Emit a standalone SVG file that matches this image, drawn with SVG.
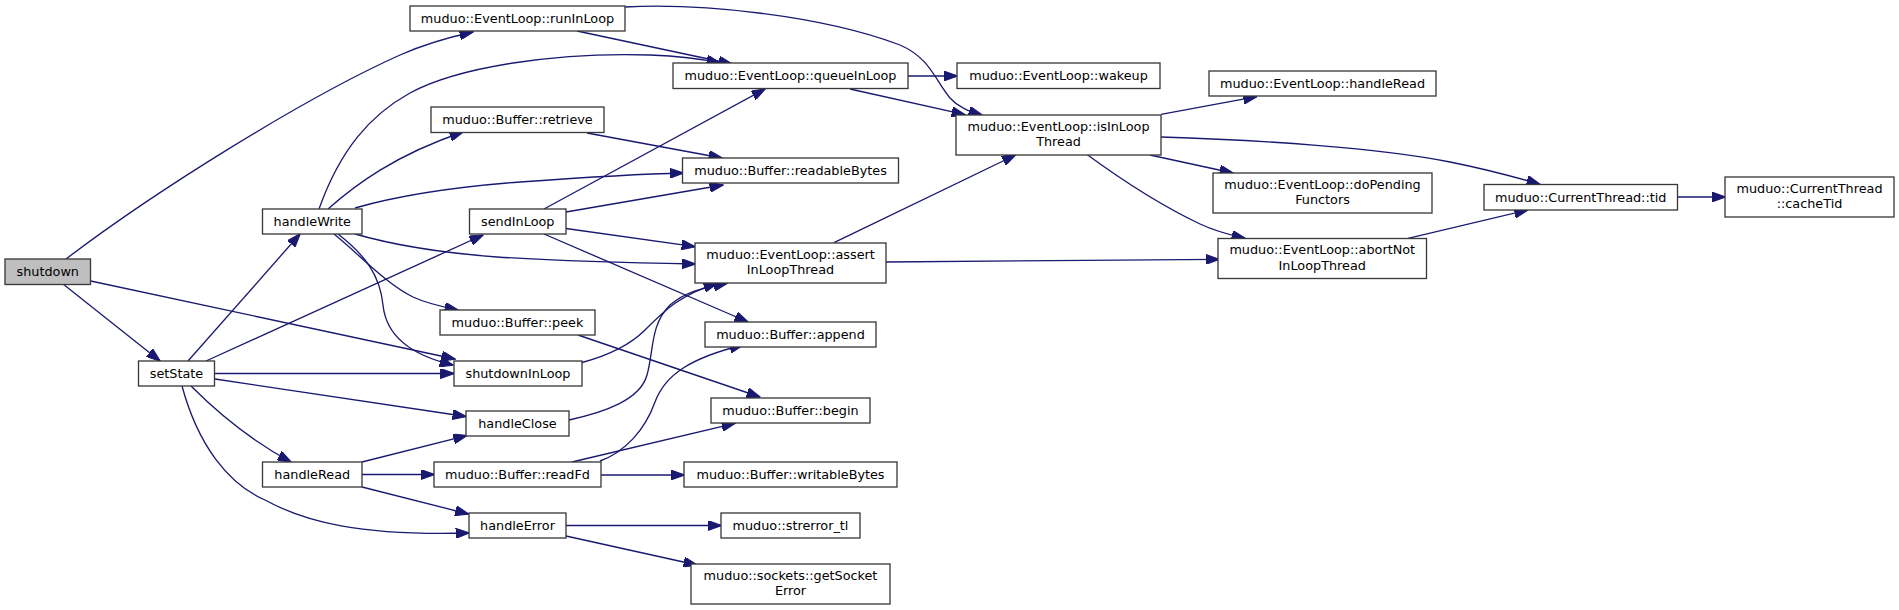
<svg xmlns="http://www.w3.org/2000/svg" width="1899" height="610" viewBox="0 0 1899 610">
<style>
.n rect{fill:#ffffff;stroke:#3a3a3a;stroke-width:1.33}
.n.root rect{fill:#bfbfbf}
.n text{font-family:"DejaVu Sans","Liberation Sans",sans-serif;font-size:12.8px;fill:#000000;text-anchor:middle}
.e path{fill:none;stroke:#191970;stroke-width:1.33;marker-end:url(#arr)}
</style>
<defs>
<marker id="arr" markerUnits="userSpaceOnUse" markerWidth="14" markerHeight="10" viewBox="0 0 13 9.4" refX="12.5" refY="4.7" orient="auto">
<path d="M0,0 L13,4.7 L0,9.4 z" fill="#191970" stroke="#191970" stroke-width="1"/>
</marker>
</defs>
<rect x="0" y="0" width="1899" height="610" fill="#ffffff"/>
<g id="edges" class="e">
<path d="M66,259 C150,195 300,100 400,55 C425,44 450,37 473,32"/>
<path d="M63,284 L160,361"/>
<path d="M90.7,281 L455,359"/>
<path d="M188,361 L300,234"/>
<path d="M206,361 L483,235"/>
<path d="M215,373.5 L453.7,373.5"/>
<path d="M215,379 L466,416.5"/>
<path d="M191,386 C215,410 250,440 291,462"/>
<path d="M182,386 C198,445 228,484 265,500 C305,522 360,536 469,533"/>
<path d="M319,209 C340,150 370,115 410,93 C460,66 560,52 650,55 C680,56 702,59 720,63"/>
<path d="M577,31 L732,64"/>
<path d="M625,7 C700,3 820,15 900,45 C930,58 935,80 950,98 C958,107 968,111 982,115"/>
<path d="M908,76 L957,76"/>
<path d="M850,89 L965,114.7"/>
<path d="M544,209 L765,89"/>
<path d="M587,133 L722,158"/>
<path d="M355,208 C390,198 440,188 520,182 C590,177 640,174 683,173"/>
<path d="M566,212 L723,185"/>
<path d="M355,234 C390,244 430,252 497,257 C560,261 640,263 695,264"/>
<path d="M566,228.5 L695,246.7"/>
<path d="M544,234 L748,322"/>
<path d="M328,209 C355,185 395,155 463,132"/>
<path d="M334,234 C360,255 385,283 413,297 C428,304 443,307 458,310"/>
<path d="M338,234 C365,255 380,275 383,305 C386,335 410,355 453,365"/>
<path d="M578,335 L760,397"/>
<path d="M362,462 L466.7,435.6"/>
<path d="M362,474.5 L434,474.5"/>
<path d="M362,487 L468.5,514"/>
<path d="M601,475 L684,475"/>
<path d="M572,462 L735,423.3"/>
<path d="M600,461 C625,452 645,430 655,402 C665,375 690,358 743,345"/>
<path d="M582,362.5 C610,355 630,345 645,330 C665,310 680,295 717,283.3"/>
<path d="M569,420 C605,412 640,400 647,375 C654,350 650,325 670,305 C688,290 705,288 727,283.3"/>
<path d="M566,525.5 L721,525.5"/>
<path d="M566,536 L697,565"/>
<path d="M1161,114.3 L1256.7,96.7"/>
<path d="M1161,137 C1260,140 1380,148 1450,162 C1485,169 1515,177 1540,184.3"/>
<path d="M1150,155 L1233,173"/>
<path d="M1087,154.5 C1115,175 1160,205 1200,224 C1215,231 1230,235 1245,238.3"/>
<path d="M834,242.7 L1015.5,155"/>
<path d="M886,262 L1219,259.3"/>
<path d="M1408,238.3 L1527.7,210"/>
<path d="M1677.5,197 L1725,197"/>
</g>
<g id="node-shutdown" class="n root"><rect x="5" y="259" width="85.5" height="25.5"/><text x="47.75" y="276.3">shutdown</text></g>
<g id="node-setState" class="n"><rect x="138.5" y="361" width="76" height="25"/><text x="176.5" y="378">setState</text></g>
<g id="node-handleWrite" class="n"><rect x="262.5" y="209" width="99.5" height="25"/><text x="312.25" y="226">handleWrite</text></g>
<g id="node-handleRead" class="n"><rect x="262.5" y="462" width="99.5" height="25"/><text x="312.25" y="479">handleRead</text></g>
<g id="node-runInLoop" class="n"><rect x="410" y="6" width="215" height="25"/><text x="517.5" y="23">muduo::EventLoop::runInLoop</text></g>
<g id="node-retrieve" class="n"><rect x="431" y="107" width="173" height="25.5"/><text x="517.5" y="124.3">muduo::Buffer::retrieve</text></g>
<g id="node-sendInLoop" class="n"><rect x="469.5" y="209" width="96.5" height="25"/><text x="517.75" y="226">sendInLoop</text></g>
<g id="node-peek" class="n"><rect x="440" y="310" width="155" height="25"/><text x="517.5" y="327">muduo::Buffer::peek</text></g>
<g id="node-shutdownInLoop" class="n"><rect x="454" y="361" width="128" height="25"/><text x="518" y="378">shutdownInLoop</text></g>
<g id="node-handleClose" class="n"><rect x="466" y="411" width="103" height="25"/><text x="517.5" y="428">handleClose</text></g>
<g id="node-readFd" class="n"><rect x="434" y="462" width="167" height="25"/><text x="517.5" y="479">muduo::Buffer::readFd</text></g>
<g id="node-handleError" class="n"><rect x="469" y="513" width="97" height="25"/><text x="517.5" y="530">handleError</text></g>
<g id="node-queueInLoop" class="n"><rect x="673" y="63" width="235" height="25.5"/><text x="790.5" y="80.3">muduo::EventLoop::queueInLoop</text></g>
<g id="node-readableBytes" class="n"><rect x="682.5" y="158" width="216" height="25"/><text x="790.5" y="175">muduo::Buffer::readableBytes</text></g>
<g id="node-assertInLoopThread" class="n"><rect x="695" y="243" width="191" height="40"/><text x="790.5" y="258.5">muduo::EventLoop::assert</text><text x="790.5" y="274">InLoopThread</text></g>
<g id="node-append" class="n"><rect x="705" y="322" width="171" height="25"/><text x="790.5" y="339">muduo::Buffer::append</text></g>
<g id="node-begin" class="n"><rect x="711" y="398" width="159" height="25"/><text x="790.5" y="415">muduo::Buffer::begin</text></g>
<g id="node-writableBytes" class="n"><rect x="684" y="462" width="213" height="25"/><text x="790.5" y="479">muduo::Buffer::writableBytes</text></g>
<g id="node-strerror_tl" class="n"><rect x="721" y="513" width="139" height="25"/><text x="790.5" y="530">muduo::strerror_tl</text></g>
<g id="node-getSocketError" class="n"><rect x="691" y="564" width="199" height="40"/><text x="790.5" y="579.5">muduo::sockets::getSocket</text><text x="790.5" y="595">Error</text></g>
<g id="node-wakeup" class="n"><rect x="957" y="63" width="203" height="25.5"/><text x="1058.5" y="80.3">muduo::EventLoop::wakeup</text></g>
<g id="node-isInLoopThread" class="n"><rect x="956" y="115" width="205" height="40"/><text x="1058.5" y="130.5">muduo::EventLoop::isInLoop</text><text x="1058.5" y="146">Thread</text></g>
<g id="node-EventLoop-handleRead" class="n"><rect x="1209" y="71" width="227" height="25"/><text x="1322.5" y="88">muduo::EventLoop::handleRead</text></g>
<g id="node-doPendingFunctors" class="n"><rect x="1213" y="173" width="219" height="40"/><text x="1322.5" y="188.5">muduo::EventLoop::doPending</text><text x="1322.5" y="204">Functors</text></g>
<g id="node-abortNotInLoopThread" class="n"><rect x="1218" y="238.5" width="208.5" height="40"/><text x="1322.25" y="254">muduo::EventLoop::abortNot</text><text x="1322.25" y="269.5">InLoopThread</text></g>
<g id="node-tid" class="n"><rect x="1484" y="184.5" width="193.5" height="25.5"/><text x="1580.75" y="201.8">muduo::CurrentThread::tid</text></g>
<g id="node-cacheTid" class="n"><rect x="1725" y="177" width="169" height="40"/><text x="1809.5" y="192.5">muduo::CurrentThread</text><text x="1809.5" y="208">::cacheTid</text></g>
</svg>
